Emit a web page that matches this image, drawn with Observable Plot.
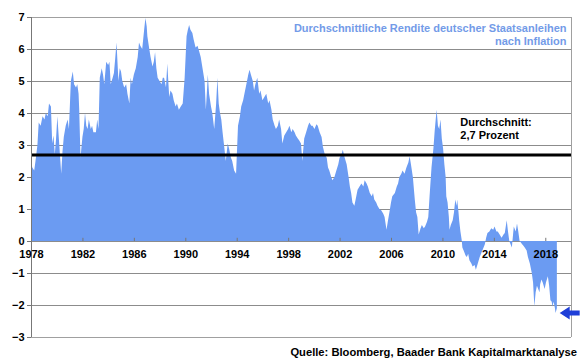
<!DOCTYPE html>
<html>
<head>
<meta charset="utf-8">
<script src="https://cdn.jsdelivr.net/npm/d3@7"></script>
<script src="https://cdn.jsdelivr.net/npm/@observablehq/plot@0.6"></script>
<style>
  body { margin: 0; background: #fff; font-family: "Liberation Sans", Arial, sans-serif; }
  #wrap { width: 580px; height: 359px; position: relative; }
  #caption { width: 577px; height: 14px; line-height: 14px; text-align: right; font-weight: bold; font-size: 11.2px; color: #000; }
</style>
</head>
<body>
<div id="wrap">
  <div id="chart"></div>
  <div id="caption">Quelle: Bloomberg, Baader Bank Kapitalmarktanalyse</div>
</div>
<script>
const years = [1978.0,1978.1,1978.25,1978.35,1978.5,1978.6,1978.75,1978.9,1979.05,1979.15,1979.3,1979.4,1979.55,1979.65,1979.75,1979.85,1979.95,1980.05,1980.2,1980.35,1980.45,1980.55,1980.7,1980.85,1980.95,1981.1,1981.25,1981.35,1981.5,1981.6,1981.7,1981.75,1981.85,1982.0,1982.1,1982.2,1982.3,1982.4,1982.5,1982.65,1982.75,1982.85,1983.05,1983.15,1983.25,1983.35,1983.5,1983.6,1983.7,1983.85,1984.0,1984.1,1984.2,1984.35,1984.45,1984.55,1984.65,1984.8,1984.9,1985.0,1985.1,1985.25,1985.4,1985.5,1985.65,1985.75,1985.85,1986.0,1986.15,1986.3,1986.4,1986.5,1986.65,1986.8,1986.9,1987.0,1987.05,1987.2,1987.3,1987.45,1987.55,1987.65,1987.75,1987.85,1988.0,1988.15,1988.25,1988.35,1988.5,1988.6,1988.75,1988.85,1989.0,1989.1,1989.25,1989.35,1989.5,1989.65,1989.8,1989.95,1990.1,1990.2,1990.3,1990.4,1990.55,1990.65,1990.8,1990.95,1991.1,1991.2,1991.3,1991.4,1991.5,1991.6,1991.7,1991.75,1991.85,1992.0,1992.1,1992.25,1992.4,1992.5,1992.6,1992.7,1992.8,1992.9,1993.0,1993.15,1993.3,1993.4,1993.55,1993.65,1993.8,1993.95,1994.1,1994.25,1994.35,1994.5,1994.6,1994.75,1994.9,1995.0,1995.1,1995.25,1995.35,1995.45,1995.6,1995.75,1995.85,1996.0,1996.15,1996.3,1996.45,1996.55,1996.7,1996.8,1996.95,1997.05,1997.2,1997.3,1997.45,1997.55,1997.7,1997.85,1998.0,1998.1,1998.25,1998.35,1998.5,1998.6,1998.75,1998.85,1999.0,1999.1,1999.25,1999.4,1999.55,1999.65,1999.8,1999.9,2000.05,2000.2,2000.3,2000.45,2000.6,2000.7,2000.85,2001.0,2001.1,2001.2,2001.35,2001.45,2001.6,2001.75,2001.9,2002.0,2002.15,2002.25,2002.4,2002.55,2002.7,2002.8,2002.9,2003.0,2003.15,2003.3,2003.4,2003.55,2003.7,2003.85,2003.95,2004.1,2004.2,2004.35,2004.5,2004.6,2004.7,2004.85,2004.95,2005.1,2005.25,2005.4,2005.5,2005.65,2005.75,2005.9,2006.0,2006.1,2006.3,2006.45,2006.55,2006.65,2006.8,2006.9,2007.05,2007.2,2007.35,2007.45,2007.55,2007.7,2007.85,2007.95,2008.05,2008.15,2008.3,2008.4,2008.55,2008.65,2008.8,2008.9,2009.0,2009.15,2009.3,2009.4,2009.5,2009.55,2009.65,2009.75,2009.85,2009.95,2010.05,2010.15,2010.25,2010.3,2010.4,2010.5,2010.55,2010.65,2010.8,2010.9,2011.0,2011.1,2011.15,2011.25,2011.3,2011.4,2011.5,2011.55,2011.65,2011.8,2011.9,2012.0,2012.1,2012.25,2012.35,2012.5,2012.6,2012.75,2012.9,2013.05,2013.2,2013.3,2013.4,2013.5,2013.65,2013.8,2013.95,2014.05,2014.2,2014.3,2014.45,2014.6,2014.75,2014.85,2015.0,2015.1,2015.2,2015.3,2015.4,2015.55,2015.7,2015.8,2015.9,2016.0,2016.1,2016.2,2016.3,2016.4,2016.55,2016.65,2016.8,2016.95,2017.05,2017.15,2017.25,2017.35,2017.45,2017.55,2017.6,2017.7,2017.8,2017.95,2018.05,2018.2,2018.3,2018.4,2018.5,2018.55,2018.65,2018.75,2018.8,2018.9];
const realYield = [2.5,2.3,2.2,2.5,3.0,3.7,3.6,3.9,3.8,4.0,3.9,4.3,4.2,3.05,3.3,2.7,3.2,3.9,3.0,2.1,2.8,3.25,3.6,3.8,3.5,5.0,5.3,4.9,4.8,4.9,4.6,4.1,2.6,3.25,3.5,4.0,3.6,3.5,3.8,3.5,3.6,3.4,3.4,3.8,3.5,5.1,5.4,5.2,4.9,5.6,5.5,5.6,4.9,5.1,5.25,5.7,6.2,5.0,5.4,5.3,5.0,4.8,4.9,4.6,4.3,5.1,4.9,5.2,5.4,5.75,6.2,6.1,6.0,6.6,6.97,6.7,6.4,6.0,5.75,5.45,5.6,5.9,5.4,5.1,5.0,4.9,5.1,5.1,4.8,5.55,4.5,4.7,4.6,4.4,4.2,4.3,4.1,4.2,4.3,5.1,6.4,6.6,6.75,6.6,6.5,6.3,6.05,6.1,5.9,5.75,5.5,5.25,5.0,4.1,4.8,5.2,4.6,4.2,4.0,3.5,4.3,5.1,4.3,4.0,3.8,3.4,3.05,2.5,3.05,2.9,2.6,2.5,2.2,2.1,3.6,3.9,4.2,4.4,4.6,4.9,5.2,5.35,5.2,5.0,4.7,4.9,5.1,4.6,4.7,4.4,4.5,4.6,4.3,4.4,4.1,3.8,3.6,3.5,3.6,3.8,3.5,3.05,3.3,3.4,3.5,3.6,3.4,3.5,3.4,3.3,3.2,3.15,3.05,2.5,3.2,3.4,3.6,3.7,3.6,3.6,3.5,3.65,3.6,3.4,3.25,2.95,2.7,2.6,2.3,2.2,2.0,1.9,2.0,2.2,2.4,2.6,2.7,2.85,2.6,2.4,2.0,1.7,1.5,1.2,1.1,1.4,1.6,1.7,1.8,1.7,1.9,1.8,1.7,1.5,1.4,1.5,1.3,1.2,1.1,1.0,0.95,0.85,0.75,0.35,0.6,0.95,1.2,1.4,1.5,1.7,1.8,2.0,2.1,2.2,2.1,2.3,2.45,2.65,2.4,2.0,1.3,0.9,0.75,0.2,0.4,0.5,0.4,0.45,0.6,0.75,1.4,2.3,2.9,3.45,3.9,4.1,3.6,3.5,3.8,3.2,2.9,2.4,2.0,1.4,1.2,0.75,0.35,0.5,0.65,0.9,1.3,1.1,1.3,0.9,0.65,0.3,0.03,-0.2,-0.3,-0.45,-0.5,-0.4,-0.6,-0.7,-0.8,-0.75,-0.9,-0.7,-0.5,-0.35,-0.2,-0.1,0.1,0.25,0.3,0.4,0.35,0.45,0.3,0.3,0.2,0.1,0.2,0.25,0.65,0.3,0.0,-0.1,-0.2,0.45,0.3,0.55,0.3,0.0,-0.05,-0.1,-0.15,-0.2,-0.3,-0.5,-0.7,-1.0,-1.3,-2.05,-1.6,-1.4,-1.5,-1.6,-1.35,-1.2,-1.3,-1.5,-1.3,-1.1,-1.4,-1.85,-1.9,-2.05,-1.9,-2.1,-2.25,-2.1];

const xTicks = [1978,1982,1986,1990,1994,1998,2002,2006,2010,2014,2018];
const yTicks = [-3,-2,-1,0,1,2,3,4,5,6,7];
const average = [2.7];
const titleText = ["Durchschnittliche Rendite deutscher Staatsanleihen\nnach Inflation"];
const averageLabel = ["Durchschnitt:\n2,7 Prozent"];
const averageLabelPos = {year: 2011.35, value: 3.88};
const arrowAt = {year: 2019.12, value: -2.25};

const data = years.map((y, i) => ({year: y, value: realYield[i]}));

const arrowMark = (index, scales, values, dimensions) => {
  const x0 = scales.x(arrowAt.year), y0 = scales.y(arrowAt.value);
  const g = d3.create("svg:g");
  const pts = [[0,0],[10,-6.5],[10,-2.5],[20,-2.5],[20,2.5],[10,2.5],[10,6.5]]
    .map(([dx, dy]) => [x0 + dx, y0 + dy].join(",")).join(" ");
  g.append("polygon").attr("points", pts).attr("fill", "#1f3fd8");
  return g.node();
};

const chart = Plot.plot({
  width: 580,
  height: 345,
  marginTop: 17,
  marginBottom: 8,
  marginLeft: 31,
  marginRight: 9,
  style: {fontFamily: "'Liberation Sans', Arial, sans-serif", fontWeight: "bold", fontSize: "11px", color: "#000", overflow: "visible"},
  x: {domain: [1978, 2020], axis: null},
  y: {domain: [-3, 7], axis: null},
  marks: [
    Plot.ruleY(yTicks, {stroke: "#8c8c8c", strokeWidth: 1}),
    Plot.areaY(data, {x: "year", y: "value", fill: "#6b9bf2"}),
    Plot.ruleY(average, {stroke: "#000", strokeWidth: 3}),
    Plot.ruleX([2020], {stroke: "#a0a0a0"}),
    Plot.ruleY([7, -3], {stroke: "#a0a0a0"}),
    Plot.ruleX([1978], {stroke: "#777"}),
    Plot.axisY({ticks: yTicks, tickSize: 4, tickPadding: 3, label: null, stroke: "#777", fontSize: 11, fontWeight: "bold"}),
    Plot.ruleX(xTicks, {x: d => d, y1: 0, y2: 0.1, stroke: "#777"}),
    Plot.text(xTicks, {x: d => d, y: 0, dy: 13, text: d => String(d), fontSize: 11, fontWeight: "bold", fill: "#000"}),
    Plot.text(titleText, {frameAnchor: "top-right", dx: -5, dy: 5, text: d => d, lineAnchor: "top", textAnchor: "end", lineHeight: 1.2, fontSize: 11, fontWeight: "bold", fill: "#739be8"}),
    Plot.text(averageLabel, {x: () => averageLabelPos.year, y: () => averageLabelPos.value, text: d => d, lineAnchor: "top", textAnchor: "start", lineHeight: 1.15, fontSize: 11, fontWeight: "bold", fill: "#000"}),
    arrowMark
  ]
});
document.getElementById("chart").appendChild(chart);
</script>
</body>
</html>
